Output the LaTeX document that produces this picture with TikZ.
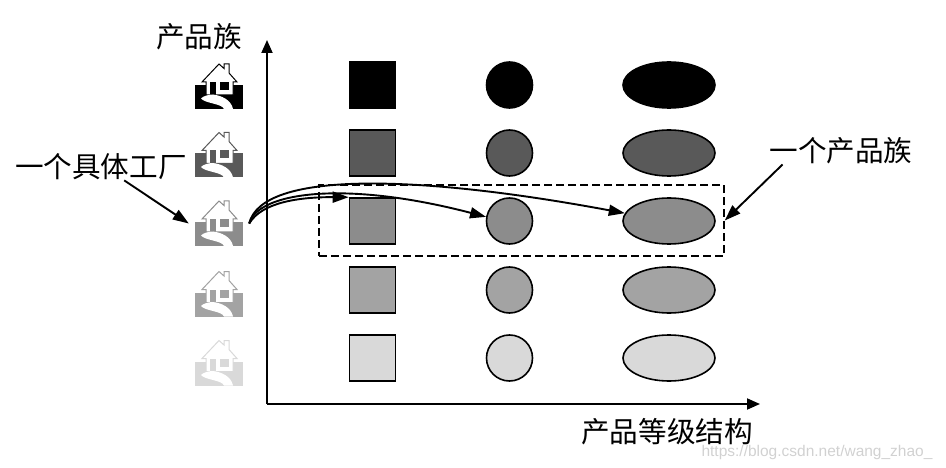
\documentclass[tikz,border=0pt]{standalone}
\usepackage{fontspec}
\newfontfamily\cjk{Noto Sans CJK SC}
\usetikzlibrary{arrows.meta,shapes.geometric}
\definecolor{rowa}{gray}{0}
\definecolor{rowb}{gray}{0.35}
\definecolor{rowc}{gray}{0.55}
\definecolor{rowd}{gray}{0.64}
\definecolor{rowe}{gray}{0.85}
\tikzset{
	house/.pic={
		\fill[#1] (-24,-1.5) rectangle (24,22.5);
		\draw[#1,fill=white,line width=1pt,line join=miter] (0,-22.5) -- (5,-18) -- (5,-22.5) -- (10,-22.5) -- (10,-13.5)
			-- (18,-4.5) -- (14,-4.5) -- (14,8.5) -- (-13,8.5) -- (-13,-4.5) -- (-17,-4.5) -- cycle;
		\fill[#1] (-9,-4.5) rectangle (-3,8.5);
		\fill[#1] (1,-4.5) rectangle (10,3.5);
		\fill[white] (-18,12) .. controls (-16,9.5) and (-10,8) .. (-6,8)
			.. controls (2,9) and (12,13) .. (14,22.5) -- (5,22.5)
			.. controls (3,17) and (-14,17) .. (-18,12) -- cycle;
	}
}
\begin{document}
\begin{tikzpicture}[x=1pt,y=-1pt,
		box/.style={draw=black,line width=1.6pt,minimum size=46pt,inner sep=0pt},
		disc/.style={circle,draw=black,line width=1.6pt,minimum size=46pt,inner sep=0pt},
		oval/.style={ellipse,draw=black,line width=1.6pt,minimum width=92pt,minimum height=46pt,inner sep=0pt},
		factory/.style={minimum width=60pt,minimum height=46pt,inner sep=0pt},
		label/.style={font=\cjk\fontsize{28.6}{30}\selectfont,inner sep=0pt},
		axis/.style={line width=1.9pt,-{Triangle[length=13pt,width=11pt]}},
		link/.style={line width=1.9pt,-{Triangle[length=16pt,width=11pt]}}]
	\useasboundingbox (0,0) rectangle (946,468);
	% \draw[help lines] (0,0) grid (946,468);
	\coordinate (origin) at (267,404);
	\coordinate (ytip) at (267,40);
	\coordinate (xtip) at (760,404);
	\draw[axis] (origin) -- (ytip);
	\draw[axis] (origin) -- (xtip);

	\node[label] (familyaxis) at (199,37) {产品族};
	\node[label] (gradeaxis) at (667,432) {产品等级结构};
	\node[label] (factorylabel) at (101,167) {一个具体工厂};
	\node[label] (familylabel) at (841,151) {一个产品族};

	\node[factory] (factorya) at (219,86.5) {};
	\node[factory] (factoryb) at (219,155) {};
	\node[factory] (factoryc) at (219,223.5) {};
	\node[factory] (factoryd) at (219,294) {};
	\node[factory] (factorye) at (219,363) {};
	\pic at (factorya) {house=rowa};
	\pic at (factoryb) {house=rowb};
	\pic at (factoryc) {house=rowc};
	\pic at (factoryd) {house=rowd};
	\pic at (factorye) {house=rowe};

	\node[box,fill=rowa] (squarea) at (372.5,85) {};
	\node[box,fill=rowb] (squareb) at (372.5,153) {};
	\node[box,fill=rowc] (squarec) at (372.5,221) {};
	\node[box,fill=rowd] (squared) at (372.5,290) {};
	\node[box,fill=rowe] (squaree) at (372.5,358) {};

	\node[disc,fill=rowa] (circlea) at (509.5,85) {};
	\node[disc,fill=rowb] (circleb) at (509.5,153) {};
	\node[disc,fill=rowc] (circlec) at (509.5,221) {};
	\node[disc,fill=rowd] (circled) at (509.5,290) {};
	\node[disc,fill=rowe] (circlee) at (509.5,358) {};

	\node[oval,fill=rowa] (ovala) at (669,85) {};
	\node[oval,fill=rowb] (ovalb) at (669,153) {};
	\node[oval,fill=rowc] (ovalc) at (669,221) {};
	\node[oval,fill=rowd] (ovald) at (669,290) {};
	\node[oval,fill=rowe] (ovale) at (669,358) {};

	\node[draw=black,line width=1.6pt,dash pattern=on 8pt off 4pt,minimum width=405pt,minimum height=71pt,inner sep=0pt] (family) at (521.5,220.5) {};

	\draw[link] (factorylabel.-30) -- (factoryc.west);
	\draw[link] (familylabel.193) -- (family.east);
	\draw[link] (factoryc.east) .. controls (262,202) and (300,197) .. (squarec.north west);
	\draw[link] (factoryc.east) .. controls (258,192) and (345,180) .. (circlec.170);
	\draw[link] (factoryc.east) .. controls (262,170) and (420,175) .. (ovalc.170);

	\node[font=\fontspec{Liberation Sans}\fontsize{15.5}{16}\selectfont,text=black!18,inner sep=0pt] (mark) at (817,452) {https://blog.csdn.net/wang\_zhao\_};
\end{tikzpicture}
\end{document}
